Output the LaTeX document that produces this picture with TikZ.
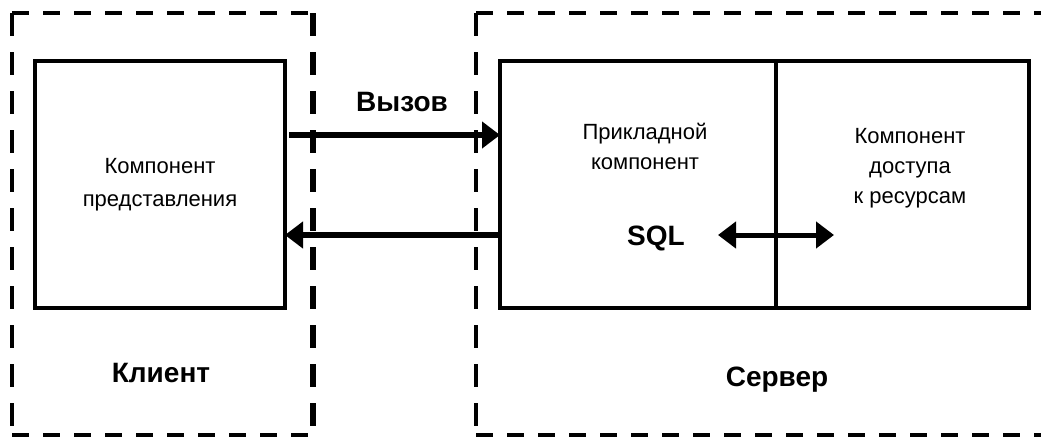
\documentclass[tikz,border=0pt]{standalone}
\usepackage{fontspec}
\setmainfont{Liberation Sans}
\usetikzlibrary{arrows.meta,positioning}

\begin{document}
\begin{tikzpicture}[x=1pt, y=-1pt, >={Triangle[length=18pt,width=26pt]},
		box/.style={draw, line width=4.5pt, inner sep=0pt, outer sep=0pt, align=center, minimum height=247pt, font=\fontsize{22}{33}\selectfont},
		txt/.style={align=center, font=\fontsize{22}{30}\selectfont},
		lbl/.style={font=\bfseries\fontsize{28}{30}\selectfont},
		hdash/.style={line width=4pt, dash pattern=on 17pt off 14pt},
		vdash/.style={line width=4pt, dash pattern=on 23pt off 16pt},
		link/.style={line width=6pt, ->}]
		\useasboundingbox (0,0) rectangle (1041,439);

		% Client frame
		\draw[hdash] (12,13) -- (313,13) (12,435) -- (313,435);
		\draw[vdash] (12,13) -- (12,435);
		\draw[vdash, line width=5.5pt] (313,13) -- (313,435);

		% Server frame
		\draw[hdash] (476,13) -- (1041,13) (476,435) -- (1041,435);
		\draw[vdash] (476,13) -- (476,435);

		% Components
		\node[box, minimum width=250pt] (client) at (160,184.5) {Компонент\\представления};
		\node[box, minimum width=276pt] (app) at (638,184.5) {};
		\node[box, minimum width=253pt, right=0pt of app] (res) {};
		\node[txt] (applbl) at (645,146) {Прикладной\\компонент};
		\node[txt] (reslbl) at (910,168) {Компонент\\доступа\\к ресурсам};

		% Calls
		\coordinate (callY) at (0,135);
		\coordinate (backY) at (0,235);
		\draw[link] ([xshift=4pt]client.east |- callY) -- (app.west |- callY);
		\draw[link] (app.west |- backY) -- (client.east |- backY);
		\node[lbl] (call) at (402,102) {Вызов};

		% SQL
		\coordinate (sqlL) at (718,235);
		\coordinate (sqlR) at (834,235);
		\node[lbl] (sql) at (656,238) {SQL};
		\draw[line width=5pt, <->] (sqlL) -- (sqlR);

		% Labels
		\node[lbl] (clientlbl) at (161,373) {Клиент};
		\node[lbl] (serverlbl) at (777,380) {Сервер};
	\end{tikzpicture}
\end{document}
